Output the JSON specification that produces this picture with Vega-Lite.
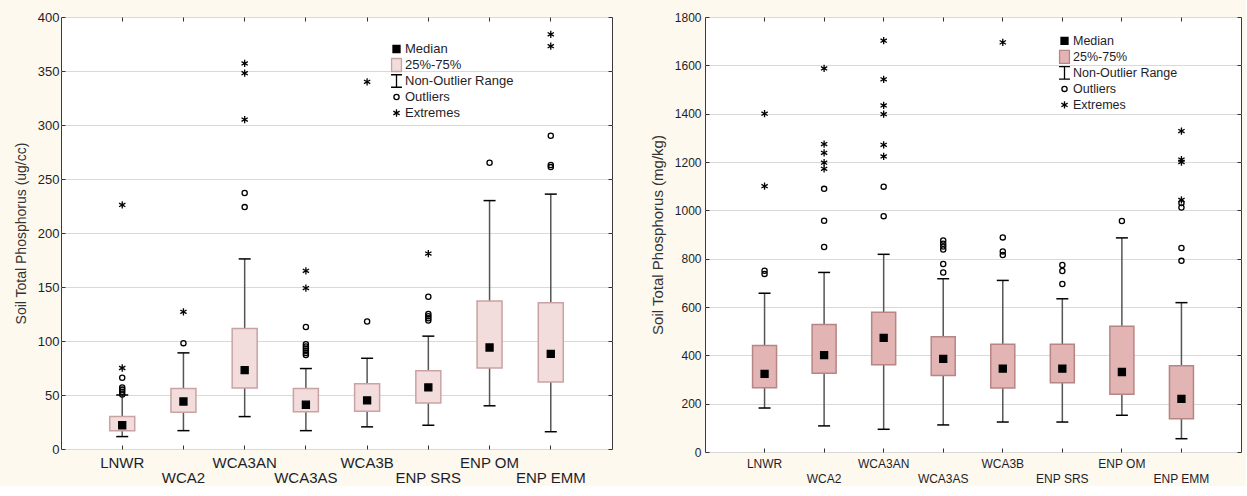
{
  "$schema": "https://vega.github.io/schema/vega-lite/v6.json",
  "background": "#fdf9ef",
  "padding": {"left": 13, "top": 10, "right": 4, "bottom": 0},
  "bounds": "flush",
  "spacing": 93,
  "resolve": {"scale": {"shape": "independent", "fill": "independent", "stroke": "independent"}, "legend": {"shape": "independent", "fill": "independent", "stroke": "independent"}},
  "config": {
    "font": "Liberation Sans",
    "view": {"stroke": "#3a3a3a", "strokeWidth": 1, "fill": "white"},
    "legend": {"rowPadding": 0, "padding": 0}
  },
  "datasets": {
    "boxL": [
      {"site": "LNWR", "lo": 11.5, "q1": 17, "med": 22, "q3": 30, "hi": 50},
      {"site": "WCA2", "lo": 17, "q1": 34, "med": 44, "q3": 56, "hi": 89},
      {"site": "WCA3AN", "lo": 30, "q1": 56.5, "med": 73, "q3": 111.5, "hi": 176},
      {"site": "WCA3AS", "lo": 17, "q1": 34.5, "med": 41, "q3": 56, "hi": 74.5},
      {"site": "WCA3B", "lo": 20.5, "q1": 35, "med": 45, "q3": 60.5, "hi": 84},
      {"site": "ENP SRS", "lo": 22, "q1": 42.5, "med": 57, "q3": 72.5, "hi": 104.5},
      {"site": "ENP OM", "lo": 40, "q1": 75, "med": 94, "q3": 137, "hi": 230},
      {"site": "ENP EMM", "lo": 16, "q1": 62, "med": 88, "q3": 135.5, "hi": 236}
    ],
    "ptsL": [
      {"site": "LNWR", "value": 50.5, "kind": "Outliers"},
      {"site": "LNWR", "value": 53, "kind": "Outliers"},
      {"site": "LNWR", "value": 55, "kind": "Outliers"},
      {"site": "LNWR", "value": 57, "kind": "Outliers"},
      {"site": "LNWR", "value": 66, "kind": "Outliers"},
      {"site": "LNWR", "value": 75, "kind": "Extremes"},
      {"site": "LNWR", "value": 226, "kind": "Extremes"},
      {"site": "WCA2", "value": 98, "kind": "Outliers"},
      {"site": "WCA2", "value": 127, "kind": "Extremes"},
      {"site": "WCA3AN", "value": 224, "kind": "Outliers"},
      {"site": "WCA3AN", "value": 237, "kind": "Outliers"},
      {"site": "WCA3AN", "value": 305, "kind": "Extremes"},
      {"site": "WCA3AN", "value": 348, "kind": "Extremes"},
      {"site": "WCA3AN", "value": 357, "kind": "Extremes"},
      {"site": "WCA3AS", "value": 87, "kind": "Outliers"},
      {"site": "WCA3AS", "value": 89, "kind": "Outliers"},
      {"site": "WCA3AS", "value": 91, "kind": "Outliers"},
      {"site": "WCA3AS", "value": 93, "kind": "Outliers"},
      {"site": "WCA3AS", "value": 95, "kind": "Outliers"},
      {"site": "WCA3AS", "value": 97, "kind": "Outliers"},
      {"site": "WCA3AS", "value": 113, "kind": "Outliers"},
      {"site": "WCA3AS", "value": 149, "kind": "Extremes"},
      {"site": "WCA3AS", "value": 165, "kind": "Extremes"},
      {"site": "WCA3B", "value": 118, "kind": "Outliers"},
      {"site": "WCA3B", "value": 340, "kind": "Extremes"},
      {"site": "ENP SRS", "value": 119, "kind": "Outliers"},
      {"site": "ENP SRS", "value": 121, "kind": "Outliers"},
      {"site": "ENP SRS", "value": 123, "kind": "Outliers"},
      {"site": "ENP SRS", "value": 125, "kind": "Outliers"},
      {"site": "ENP SRS", "value": 141, "kind": "Outliers"},
      {"site": "ENP SRS", "value": 181, "kind": "Extremes"},
      {"site": "ENP OM", "value": 265, "kind": "Outliers"},
      {"site": "ENP EMM", "value": 261, "kind": "Outliers"},
      {"site": "ENP EMM", "value": 263, "kind": "Outliers"},
      {"site": "ENP EMM", "value": 290, "kind": "Outliers"},
      {"site": "ENP EMM", "value": 373, "kind": "Extremes"},
      {"site": "ENP EMM", "value": 384, "kind": "Extremes"}
    ],
    "boxR": [
      {"site": "LNWR", "lo": 182, "q1": 266, "med": 323, "q3": 441, "hi": 657},
      {"site": "WCA2", "lo": 108, "q1": 326, "med": 401, "q3": 528, "hi": 743},
      {"site": "WCA3AN", "lo": 94, "q1": 361, "med": 472, "q3": 578, "hi": 818},
      {"site": "WCA3AS", "lo": 112, "q1": 317, "med": 385, "q3": 477, "hi": 717},
      {"site": "WCA3B", "lo": 124, "q1": 265, "med": 345, "q3": 446, "hi": 710},
      {"site": "ENP SRS", "lo": 124, "q1": 287, "med": 345, "q3": 446, "hi": 634},
      {"site": "ENP OM", "lo": 152, "q1": 239, "med": 331, "q3": 520, "hi": 886},
      {"site": "ENP EMM", "lo": 55, "q1": 138, "med": 220, "q3": 357, "hi": 618}
    ],
    "ptsR": [
      {"site": "LNWR", "value": 737, "kind": "Outliers"},
      {"site": "LNWR", "value": 750, "kind": "Outliers"},
      {"site": "LNWR", "value": 1100, "kind": "Extremes"},
      {"site": "LNWR", "value": 1400, "kind": "Extremes"},
      {"site": "WCA2", "value": 848, "kind": "Outliers"},
      {"site": "WCA2", "value": 957, "kind": "Outliers"},
      {"site": "WCA2", "value": 1089, "kind": "Outliers"},
      {"site": "WCA2", "value": 1172, "kind": "Extremes"},
      {"site": "WCA2", "value": 1197, "kind": "Extremes"},
      {"site": "WCA2", "value": 1238, "kind": "Extremes"},
      {"site": "WCA2", "value": 1274, "kind": "Extremes"},
      {"site": "WCA2", "value": 1587, "kind": "Extremes"},
      {"site": "WCA3AN", "value": 976, "kind": "Outliers"},
      {"site": "WCA3AN", "value": 1098, "kind": "Outliers"},
      {"site": "WCA3AN", "value": 1223, "kind": "Extremes"},
      {"site": "WCA3AN", "value": 1271, "kind": "Extremes"},
      {"site": "WCA3AN", "value": 1398, "kind": "Extremes"},
      {"site": "WCA3AN", "value": 1434, "kind": "Extremes"},
      {"site": "WCA3AN", "value": 1542, "kind": "Extremes"},
      {"site": "WCA3AN", "value": 1702, "kind": "Extremes"},
      {"site": "WCA3AS", "value": 743, "kind": "Outliers"},
      {"site": "WCA3AS", "value": 778, "kind": "Outliers"},
      {"site": "WCA3AS", "value": 838, "kind": "Outliers"},
      {"site": "WCA3AS", "value": 850, "kind": "Outliers"},
      {"site": "WCA3AS", "value": 862, "kind": "Outliers"},
      {"site": "WCA3AS", "value": 875, "kind": "Outliers"},
      {"site": "WCA3B", "value": 815, "kind": "Outliers"},
      {"site": "WCA3B", "value": 830, "kind": "Outliers"},
      {"site": "WCA3B", "value": 888, "kind": "Outliers"},
      {"site": "WCA3B", "value": 1695, "kind": "Extremes"},
      {"site": "ENP SRS", "value": 695, "kind": "Outliers"},
      {"site": "ENP SRS", "value": 749, "kind": "Outliers"},
      {"site": "ENP SRS", "value": 774, "kind": "Outliers"},
      {"site": "ENP OM", "value": 956, "kind": "Outliers"},
      {"site": "ENP EMM", "value": 791, "kind": "Outliers"},
      {"site": "ENP EMM", "value": 844, "kind": "Outliers"},
      {"site": "ENP EMM", "value": 1012, "kind": "Outliers"},
      {"site": "ENP EMM", "value": 1030, "kind": "Outliers"},
      {"site": "ENP EMM", "value": 1043, "kind": "Extremes"},
      {"site": "ENP EMM", "value": 1200, "kind": "Extremes"},
      {"site": "ENP EMM", "value": 1210, "kind": "Extremes"},
      {"site": "ENP EMM", "value": 1328, "kind": "Extremes"}
    ]
  },
  "hconcat": [
    {
      "width": 551,
      "height": 432,
      "resolve": {"axis": {"x": "independent", "y": "independent"}},
      "layer": [
        {
          "data": {"name": "boxL"},
          "mark": {"type": "rule", "color": "#555555", "strokeWidth": 1.5},
          "encoding": {
            "x": {"field": "site", "type": "nominal", "sort": null,
              "scale": {"type": "band", "paddingInner": 0, "paddingOuter": 0.5, "domain": ["LNWR", "WCA2", "WCA3AN", "WCA3AS", "WCA3B", "ENP SRS", "ENP OM", "ENP EMM"]},
              "axis": {"title": null, "labelAngle": 0, "labelFontSize": 15, "labelColor": "#1e1e2a", "labelPadding": 10, "labelBaseline": "top", "labelLineHeight": 15, "domain": false, "ticks": true, "tickSize": -4, "tickColor": "#333333", "grid": false, "labelOverlap": false,
                "labelExpr": "indexof(['WCA2','WCA3AS','ENP SRS','ENP EMM'], datum.value) >= 0 ? ['', datum.value] : datum.value"}},
            "y": {"field": "lo", "type": "quantitative",
              "scale": {"domain": [0, 400], "nice": false, "zero": false},
              "axis": {"title": "Soil Total Phosphorus (ug/cc)", "values": [0, 50, 100, 150, 200, 250, 300, 350, 400], "format": "d", "grid": true, "gridColor": "#d9d9d9", "gridWidth": 1.2, "domain": false, "ticks": true, "tickSize": -4, "tickColor": "#333333", "labelFontSize": 13, "labelColor": "#1e1e2a", "labelPadding": 6, "titleFontSize": 14, "titleFontWeight": "normal", "titleColor": "#333333", "titlePadding": 9}},
            "y2": {"field": "hi"}
          }
        },
        {
          "data": {"name": "boxL"},
          "mark": {"type": "tick", "orient": "horizontal", "color": "black", "size": 12, "thickness": 1.5, "opacity": 1},
          "encoding": {
            "x": {"field": "site", "type": "nominal", "sort": null,
              "axis": {"orient": "top", "title": null, "labels": false, "domain": false, "grid": false, "ticks": true, "tickSize": -4, "tickColor": "#333333"}},
            "y": {"field": "lo", "type": "quantitative",
              "axis": {"orient": "right", "title": null, "labels": false, "domain": false, "grid": false, "ticks": true, "tickSize": -4, "tickColor": "#333333", "values": [0, 50, 100, 150, 200, 250, 300, 350, 400]}}
          }
        },
        {
          "data": {"name": "boxL"},
          "mark": {"type": "tick", "orient": "horizontal", "color": "black", "size": 12, "thickness": 1.5, "opacity": 1},
          "encoding": {
            "x": {"field": "site", "type": "nominal", "sort": null, "axis": null},
            "y": {"field": "hi", "type": "quantitative", "axis": null}
          }
        },
        {
          "data": {"name": "boxL"},
          "mark": {"type": "bar", "width": 25, "fill": "#f2dcdc", "stroke": "#c9a3a3", "strokeWidth": 1.5},
          "encoding": {
            "x": {"field": "site", "type": "nominal", "sort": null, "axis": null},
            "y": {"field": "q1", "type": "quantitative", "axis": null},
            "y2": {"field": "q3"}
          }
        },
        {
          "data": {"name": "boxL"},
          "mark": {"type": "point", "filled": true, "size": 169, "opacity": 1, "strokeWidth": 1.3},
          "encoding": {
            "x": {"field": "site", "type": "nominal", "sort": null, "axis": null},
            "y": {"field": "med", "type": "quantitative", "axis": null},
            "shape": {"datum": "Median", "type": "nominal",
              "scale": {"domain": ["Median", "25%-75%", "Non-Outlier Range", "Outliers", "Extremes"],
                "range": ["M-0.54,-0.54H0.54V0.54H-0.54Z", "M-0.76,-1H0.76V1H-0.76Z", "M-0.84,-0.96H0.84M0,-0.96V0.96M-0.84,0.96H0.84", "M0.4,0A0.4,0.4 0 1 1 -0.4,0A0.4,0.4 0 1 1 0.4,0Z", "M0,-0.56V0.56M-0.485,-0.28L0.485,0.28M-0.485,0.28L0.485,-0.28"]},
              "legend": {"title": null, "orient": "none", "legendX": 328, "legendY": 24, "symbolSize": 169, "clipHeight": 16, "labelFontSize": 13, "labelColor": "#1e1e2a", "labelOffset": 1, "symbolStrokeWidth": 1.3}},
            "fill": {"datum": "Median", "type": "nominal",
              "scale": {"domain": ["Median", "25%-75%", "Non-Outlier Range", "Outliers", "Extremes"], "range": ["black", "#f2dcdc", "transparent", "transparent", "transparent"]},
              "legend": {"title": null, "orient": "none", "legendX": 328, "legendY": 24, "symbolSize": 169, "clipHeight": 16, "labelFontSize": 13, "labelColor": "#1e1e2a", "labelOffset": 1, "symbolStrokeWidth": 1.3}},
            "stroke": {"datum": "Median", "type": "nominal",
              "scale": {"domain": ["Median", "25%-75%", "Non-Outlier Range", "Outliers", "Extremes"], "range": ["black", "#c9a3a3", "black", "black", "black"]},
              "legend": {"title": null, "orient": "none", "legendX": 328, "legendY": 24, "symbolSize": 169, "clipHeight": 16, "labelFontSize": 13, "labelColor": "#1e1e2a", "labelOffset": 1, "symbolStrokeWidth": 1.3}}
          }
        },
        {
          "data": {"name": "ptsL"},
          "mark": {"type": "point", "filled": true, "size": 169, "opacity": 1, "strokeWidth": 1.3},
          "encoding": {
            "x": {"field": "site", "type": "nominal", "sort": null, "axis": null},
            "y": {"field": "value", "type": "quantitative", "axis": null},
            "shape": {"field": "kind", "type": "nominal",
              "legend": {"title": null, "orient": "none", "legendX": 328, "legendY": 24, "symbolSize": 169, "clipHeight": 16, "labelFontSize": 13, "labelColor": "#1e1e2a", "labelOffset": 1, "symbolStrokeWidth": 1.3}},
            "fill": {"field": "kind", "type": "nominal",
              "legend": {"title": null, "orient": "none", "legendX": 328, "legendY": 24, "symbolSize": 169, "clipHeight": 16, "labelFontSize": 13, "labelColor": "#1e1e2a", "labelOffset": 1, "symbolStrokeWidth": 1.3}},
            "stroke": {"field": "kind", "type": "nominal",
              "legend": {"title": null, "orient": "none", "legendX": 328, "legendY": 24, "symbolSize": 169, "clipHeight": 16, "labelFontSize": 13, "labelColor": "#1e1e2a", "labelOffset": 1, "symbolStrokeWidth": 1.3}}
          }
        }
      ]
    },
    {
      "width": 536,
      "height": 435,
      "resolve": {"axis": {"x": "independent", "y": "independent"}},
      "layer": [
        {
          "data": {"name": "boxR"},
          "mark": {"type": "rule", "color": "#555555", "strokeWidth": 1.5},
          "encoding": {
            "x": {"field": "site", "type": "nominal", "sort": null,
              "scale": {"type": "band", "paddingInner": 0, "paddingOuter": 0.5, "domain": ["LNWR", "WCA2", "WCA3AN", "WCA3AS", "WCA3B", "ENP SRS", "ENP OM", "ENP EMM"]},
              "axis": {"title": null, "labelAngle": 0, "labelFontSize": 12, "labelColor": "#1e1e2a", "labelPadding": 10, "labelBaseline": "top", "labelLineHeight": 15.5, "domain": false, "ticks": true, "tickSize": -4, "tickColor": "#333333", "grid": false, "labelOverlap": false,
                "labelExpr": "indexof(['WCA2','WCA3AS','ENP SRS','ENP EMM'], datum.value) >= 0 ? ['', datum.value] : datum.value"}},
            "y": {"field": "lo", "type": "quantitative",
              "scale": {"domain": [0, 1800], "nice": false, "zero": false},
              "axis": {"title": "Soil Total Phosphorus (mg/kg)", "values": [0, 200, 400, 600, 800, 1000, 1200, 1400, 1600, 1800], "format": "d", "grid": true, "gridColor": "#d9d9d9", "gridWidth": 1.2, "domain": false, "ticks": true, "tickSize": -4, "tickColor": "#333333", "labelFontSize": 12, "labelColor": "#1e1e2a", "labelPadding": 8, "titleFontSize": 15, "titleFontWeight": "normal", "titleColor": "#333333", "titlePadding": 9}},
            "y2": {"field": "hi"}
          }
        },
        {
          "data": {"name": "boxR"},
          "mark": {"type": "tick", "orient": "horizontal", "color": "black", "size": 12, "thickness": 1.5, "opacity": 1},
          "encoding": {
            "x": {"field": "site", "type": "nominal", "sort": null,
              "axis": {"orient": "top", "title": null, "labels": false, "domain": false, "grid": false, "ticks": true, "tickSize": -4, "tickColor": "#333333"}},
            "y": {"field": "lo", "type": "quantitative",
              "axis": {"orient": "right", "title": null, "labels": false, "domain": false, "grid": false, "ticks": true, "tickSize": -4, "tickColor": "#333333", "values": [0, 200, 400, 600, 800, 1000, 1200, 1400, 1600, 1800]}}
          }
        },
        {
          "data": {"name": "boxR"},
          "mark": {"type": "tick", "orient": "horizontal", "color": "black", "size": 12, "thickness": 1.5, "opacity": 1},
          "encoding": {
            "x": {"field": "site", "type": "nominal", "sort": null, "axis": null},
            "y": {"field": "hi", "type": "quantitative", "axis": null}
          }
        },
        {
          "data": {"name": "boxR"},
          "mark": {"type": "bar", "width": 24, "fill": "#e2b4b4", "stroke": "#b88585", "strokeWidth": 1.5},
          "encoding": {
            "x": {"field": "site", "type": "nominal", "sort": null, "axis": null},
            "y": {"field": "q1", "type": "quantitative", "axis": null},
            "y2": {"field": "q3"}
          }
        },
        {
          "data": {"name": "boxR"},
          "mark": {"type": "point", "filled": true, "size": 169, "opacity": 1, "strokeWidth": 1.3},
          "encoding": {
            "x": {"field": "site", "type": "nominal", "sort": null, "axis": null},
            "y": {"field": "med", "type": "quantitative", "axis": null},
            "shape": {"datum": "Median", "type": "nominal",
              "scale": {"domain": ["Median", "25%-75%", "Non-Outlier Range", "Outliers", "Extremes"],
                "range": ["M-0.54,-0.54H0.54V0.54H-0.54Z", "M-0.76,-1H0.76V1H-0.76Z", "M-0.84,-0.96H0.84M0,-0.96V0.96M-0.84,0.96H0.84", "M0.4,0A0.4,0.4 0 1 1 -0.4,0A0.4,0.4 0 1 1 0.4,0Z", "M0,-0.56V0.56M-0.485,-0.28L0.485,0.28M-0.485,0.28L0.485,-0.28"]},
              "legend": {"title": null, "orient": "none", "legendX": 352, "legendY": 16, "symbolSize": 169, "clipHeight": 15.8, "labelFontSize": 12.5, "labelColor": "#1e1e2a", "labelOffset": 1, "symbolStrokeWidth": 1.3}},
            "fill": {"datum": "Median", "type": "nominal",
              "scale": {"domain": ["Median", "25%-75%", "Non-Outlier Range", "Outliers", "Extremes"], "range": ["black", "#e2b4b4", "transparent", "transparent", "transparent"]},
              "legend": {"title": null, "orient": "none", "legendX": 352, "legendY": 16, "symbolSize": 169, "clipHeight": 15.8, "labelFontSize": 12.5, "labelColor": "#1e1e2a", "labelOffset": 1, "symbolStrokeWidth": 1.3}},
            "stroke": {"datum": "Median", "type": "nominal",
              "scale": {"domain": ["Median", "25%-75%", "Non-Outlier Range", "Outliers", "Extremes"], "range": ["black", "#b88585", "black", "black", "black"]},
              "legend": {"title": null, "orient": "none", "legendX": 352, "legendY": 16, "symbolSize": 169, "clipHeight": 15.8, "labelFontSize": 12.5, "labelColor": "#1e1e2a", "labelOffset": 1, "symbolStrokeWidth": 1.3}}
          }
        },
        {
          "data": {"name": "ptsR"},
          "mark": {"type": "point", "filled": true, "size": 169, "opacity": 1, "strokeWidth": 1.3},
          "encoding": {
            "x": {"field": "site", "type": "nominal", "sort": null, "axis": null},
            "y": {"field": "value", "type": "quantitative", "axis": null},
            "shape": {"field": "kind", "type": "nominal",
              "legend": {"title": null, "orient": "none", "legendX": 352, "legendY": 16, "symbolSize": 169, "clipHeight": 15.8, "labelFontSize": 12.5, "labelColor": "#1e1e2a", "labelOffset": 1, "symbolStrokeWidth": 1.3}},
            "fill": {"field": "kind", "type": "nominal",
              "legend": {"title": null, "orient": "none", "legendX": 352, "legendY": 16, "symbolSize": 169, "clipHeight": 15.8, "labelFontSize": 12.5, "labelColor": "#1e1e2a", "labelOffset": 1, "symbolStrokeWidth": 1.3}},
            "stroke": {"field": "kind", "type": "nominal",
              "legend": {"title": null, "orient": "none", "legendX": 352, "legendY": 16, "symbolSize": 169, "clipHeight": 15.8, "labelFontSize": 12.5, "labelColor": "#1e1e2a", "labelOffset": 1, "symbolStrokeWidth": 1.3}}
          }
        }
      ]
    }
  ]
}
